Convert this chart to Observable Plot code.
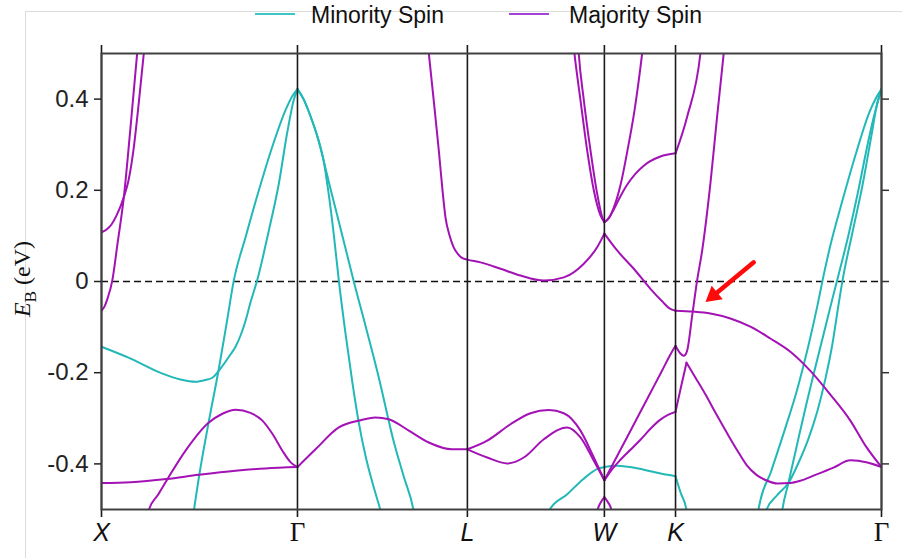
<!DOCTYPE html>
<html><head><meta charset="utf-8">
<script src="https://cdn.jsdelivr.net/npm/d3@7"></script>
<script src="https://cdn.jsdelivr.net/npm/@observablehq/plot@0.6"></script>
<style>
body{margin:0;background:#fff;}
#wrap{position:relative;width:902px;height:558px;overflow:hidden;font-family:"Liberation Sans",Arial,sans-serif;}
#border{position:absolute;left:25px;top:11px;width:900px;height:600px;border-top:1px solid #dcdcdc;border-left:1px solid #dcdcdc;}
#chart{position:absolute;left:0;top:0;}
.leg{position:absolute;top:0.5px;font-size:23px;line-height:28px;color:#111;white-space:nowrap;}
.sw{position:absolute;height:2.5px;width:40px;top:12.5px;}
#ylab{position:absolute;left:25px;top:279px;transform:translate(-50%,-50%) rotate(-90deg);font-family:"Liberation Serif","DejaVu Serif",serif;font-size:24px;white-space:nowrap;color:#111;}
#ylab sub{font-size:0.72em;vertical-align:-0.3em;}
</style></head>
<body>
<div id="wrap">
  <div id="border"></div>
  <div id="chart"></div>
  <div class="sw" style="left:255px;background:#3cc6c6"></div>
  <div class="leg" style="left:311px">Minority Spin</div>
  <div class="sw" style="left:509px;background:#a443d4"></div>
  <div class="leg" style="left:569px">Majority Spin</div>
  <div id="ylab"><i>E</i><sub>B</sub> (eV)</div>
</div>
<script>
// High-symmetry points (k-path distance) and labels
const kPoints = [0, 1.0, 1.867, 2.566, 2.929, 3.980];
const kLabels = ["X", "Γ", "L", "W", "K", "Γ"];
const yTicks = [-0.4, -0.2, 0, 0.2, 0.4];

// Minority spin bands: [k, E (eV)]
const minXG1 = [[0,-0.143],[0.138,-0.167],[0.311,-0.202],[0.403,-0.215],[0.480,-0.220],[0.531,-0.216],[0.566,-0.211],[0.598,-0.196],[0.658,-0.160],[0.684,-0.143],[0.709,-0.119],[0.735,-0.086],[0.760,-0.046],[0.794,0.002],[0.854,0.112],[0.905,0.215],[0.947,0.325],[0.981,0.398],[1.0,0.422]];
const minXG2 = [[0.465,-0.52],[0.471,-0.503],[0.496,-0.432],[0.547,-0.308],[0.598,-0.193],[0.638,-0.093],[0.675,0.002],[0.735,0.097],[0.803,0.200],[0.871,0.295],[0.939,0.376],[0.974,0.407],[1.0,0.422]];
const minGL1 = [[1.0,0.422],[1.031,0.400],[1.066,0.363],[1.107,0.310],[1.133,0.266],[1.158,0.196],[1.184,0.108],[1.211,0.002],[1.245,-0.114],[1.281,-0.224],[1.311,-0.305],[1.347,-0.382],[1.383,-0.442],[1.423,-0.501],[1.435,-0.52]];
const minGL2 = [[1.0,0.422],[1.031,0.400],[1.066,0.363],[1.107,0.310],[1.133,0.266],[1.168,0.204],[1.194,0.160],[1.245,0.073],[1.286,0.002],[1.347,-0.097],[1.413,-0.207],[1.490,-0.349],[1.541,-0.426],[1.592,-0.501],[1.600,-0.52]];
const minLWK = [[2.280,-0.515],[2.286,-0.501],[2.378,-0.466],[2.459,-0.433],[2.531,-0.411],[2.566,-0.407],[2.633,-0.404],[2.714,-0.408],[2.801,-0.416],[2.888,-0.424],[2.929,-0.427]];
const minKG0 = [[2.929,-0.427],[2.954,-0.462],[2.985,-0.501],[2.990,-0.52]];
const minKG1 = [[3.345,-0.52],[3.352,-0.501],[3.418,-0.415],[3.485,-0.327],[3.551,-0.235],[3.607,-0.141],[3.653,-0.053],[3.679,0.002],[3.719,0.079],[3.781,0.178],[3.852,0.284],[3.918,0.371],[3.954,0.404],[3.980,0.422]];
const minKG2 = [[3.468,-0.52],[3.474,-0.501],[3.505,-0.442],[3.551,-0.354],[3.597,-0.268],[3.643,-0.187],[3.689,-0.108],[3.730,-0.037],[3.760,0.013],[3.811,0.101],[3.862,0.200],[3.903,0.288],[3.939,0.358],[3.964,0.398],[3.980,0.422]];
const minKG3 = [[3.385,-0.52],[3.393,-0.501],[3.449,-0.468],[3.505,-0.442],[3.556,-0.398],[3.607,-0.345],[3.653,-0.284],[3.694,-0.213],[3.730,-0.136],[3.760,-0.053],[3.781,0.002],[3.832,0.108],[3.883,0.211],[3.929,0.321],[3.959,0.393],[3.980,0.422]];

// Majority spin bands: [k, E (eV)]
const majXG1 = [[0,-0.064],[0.015,-0.055],[0.031,-0.037],[0.055,0.002],[0.082,0.084],[0.114,0.185],[0.148,0.338],[0.182,0.501],[0.190,0.54]];
const majXG2 = [[0,0.108],[0.026,0.114],[0.051,0.125],[0.077,0.145],[0.114,0.185],[0.138,0.222],[0.163,0.288],[0.189,0.387],[0.216,0.501],[0.225,0.54]];
const majXG3 = [[0,-0.442],[0.148,-0.440],[0.332,-0.433],[0.495,-0.424],[0.684,-0.415],[0.837,-0.410],[1.0,-0.407]];
const majXG4 = [[0.230,-0.53],[0.240,-0.503],[0.291,-0.466],[0.337,-0.433],[0.429,-0.371],[0.546,-0.310],[0.617,-0.290],[0.684,-0.281],[0.760,-0.288],[0.821,-0.305],[0.872,-0.334],[0.923,-0.371],[0.964,-0.396],[1.0,-0.407]];
const majGL = [[1.0,-0.407],[1.092,-0.368],[1.211,-0.320],[1.313,-0.305],[1.398,-0.298],[1.466,-0.302],[1.568,-0.327],[1.670,-0.353],[1.789,-0.368],[1.867,-0.368]];
const majLW0 = [[1.663,0.530],[1.670,0.501],[1.694,0.402],[1.721,0.288],[1.740,0.200],[1.755,0.141],[1.776,0.101],[1.797,0.075],[1.821,0.059],[1.842,0.051],[1.867,0.048],[1.934,0.042],[2.036,0.028],[2.138,0.013],[2.257,0.002],[2.359,0.009],[2.461,0.039],[2.529,0.075],[2.566,0.105]];
const majWK0 = [[2.566,0.105],[2.631,0.068],[2.716,0.028],[2.801,-0.016],[2.862,-0.044],[2.898,-0.059],[2.929,-0.064]];
const majKG0 = [[2.929,-0.064],[3.020,-0.066],[3.107,-0.070],[3.209,-0.081],[3.311,-0.099],[3.413,-0.125],[3.515,-0.154],[3.617,-0.196],[3.719,-0.248],[3.821,-0.305],[3.898,-0.360],[3.980,-0.407]];
const majLW1 = [[1.867,-0.368],[1.968,-0.349],[2.087,-0.313],[2.189,-0.289],[2.282,-0.282],[2.359,-0.289],[2.444,-0.327],[2.512,-0.386],[2.566,-0.436]];
const majLW2 = [[1.867,-0.368],[1.968,-0.386],[2.070,-0.399],[2.155,-0.386],[2.257,-0.346],[2.376,-0.320],[2.444,-0.342],[2.512,-0.393],[2.566,-0.436]];
const majWcapL = [[2.522,-0.52],[2.531,-0.501],[2.548,-0.484],[2.566,-0.473]];
const majWcapR = [[2.566,-0.473],[2.584,-0.484],[2.602,-0.501],[2.610,-0.52]];
const majWL1 = [[2.403,0.541],[2.413,0.501],[2.444,0.398],[2.478,0.288],[2.512,0.200],[2.546,0.145],[2.566,0.130]];
const majWL2 = [[2.429,0.541],[2.435,0.501],[2.461,0.398],[2.495,0.288],[2.529,0.193],[2.555,0.141],[2.566,0.130]];
const majWR1 = [[2.566,0.130],[2.587,0.138],[2.612,0.160],[2.648,0.211],[2.684,0.288],[2.720,0.376],[2.759,0.501],[2.770,0.541]];
const majWK1 = [[2.566,0.130],[2.590,0.140],[2.614,0.158],[2.648,0.187],[2.682,0.212],[2.724,0.236],[2.767,0.254],[2.852,0.274],[2.929,0.281]];
const majKG1 = [[2.929,0.281],[2.988,0.361],[3.056,0.500],[3.066,0.541]];
const majWK2 = [[2.566,-0.436],[2.648,-0.369],[2.724,-0.307],[2.801,-0.244],[2.862,-0.194],[2.903,-0.160],[2.929,-0.141]];
const majKG2 = [[2.929,-0.141],[2.954,-0.158],[2.971,-0.163],[2.988,-0.152],[3.014,-0.075],[3.039,0.002],[3.065,0.068],[3.107,0.215],[3.141,0.361],[3.175,0.501],[3.184,0.541]];
const majWK3 = [[2.566,-0.436],[2.607,-0.411],[2.648,-0.391],[2.699,-0.369],[2.750,-0.347],[2.801,-0.323],[2.852,-0.303],[2.893,-0.292],[2.929,-0.286]];
const majKG3a = [[2.929,-0.286],[2.954,-0.237],[2.985,-0.178]];
const majKG3b = [[2.985,-0.178],[3.031,-0.211],[3.082,-0.248],[3.133,-0.288],[3.194,-0.334],[3.245,-0.371],[3.291,-0.402],[3.342,-0.424],[3.398,-0.437],[3.449,-0.443],[3.515,-0.442],[3.566,-0.437],[3.643,-0.424],[3.735,-0.408],[3.821,-0.392],[3.908,-0.397],[3.980,-0.407]];

// Annotation arrow (tail -> tip) in data units
const arrowTail = [3.328, 0.042];
const arrowTip = [3.082, -0.045];

const minorityBands = [minXG1, minXG2, minGL1, minGL2, minLWK, minKG0, minKG1, minKG2, minKG3];
const majorityBands = [majXG1, majXG2, majXG3, majXG4, majGL, majLW0, majWK0, majKG0, majLW1, majLW2,
  majWcapL, majWcapR, majWL1, majWL2, majWR1, majWK1, majKG1, majWK2, majKG2, majWK3, majKG3a, majKG3b];

const toRows = (bands, spin) => bands.flatMap((b, i) => b.map(([k, e]) => ({k, e, band: spin + i})));
const minRows = toRows(minorityBands, "min");
const majRows = toRows(majorityBands, "maj");

const CYAN = "#22b8b8";
const PURPLE = "#a312b5";

const labelRows = kPoints.map((k, i) => ({k, label: kLabels[i]}));
const fmt = d => d === 0 ? "0" : d.toFixed(1);

// layout
const W = 902, H = 558, ML = 101, MR = 21, MT = 53, MB = 49;
const xDomain = [0, kPoints[kPoints.length - 1]], yDomain = [-0.5, 0.5];

// arrow head orientation from the same scales
const sx = Plot.scale({x: {domain: xDomain, range: [ML, W - MR]}});
const sy = Plot.scale({y: {domain: yDomain, range: [H - MB, MT]}});
const ddx = sx.apply(arrowTip[0]) - sx.apply(arrowTail[0]);
const ddy = sy.apply(arrowTip[1]) - sy.apply(arrowTail[1]);
const len = Math.hypot(ddx, ddy), ux = ddx / len, uy = ddy / len;
const headR = 6.5, headBack = 1.555 * headR;
const headRotate = Math.atan2(ux, -uy) * 180 / Math.PI;

const chart = Plot.plot({
  width: W, height: H,
  marginLeft: ML, marginRight: MR, marginTop: MT, marginBottom: MB,
  x: {domain: xDomain, axis: null},
  y: {domain: yDomain, axis: null},
  style: {fontFamily: "Liberation Sans, Arial, sans-serif", background: "transparent", overflow: "visible"},
  marks: [
    Plot.ruleY([0], {stroke: "#111", strokeWidth: 1.5, strokeDasharray: "7,4"}),
    Plot.line(minRows, {x: "k", y: "e", z: "band", stroke: CYAN, strokeWidth: 2, curve: "monotone-x", clip: true}),
    Plot.line(majRows, {x: "k", y: "e", z: "band", stroke: PURPLE, strokeWidth: 2, curve: "monotone-x", clip: true}),
    Plot.ruleX(kPoints, {stroke: "#1a1a1a", strokeWidth: 1.6, insetTop: -8, insetBottom: -8}),
    Plot.frame({stroke: "#404040", strokeWidth: 2}),
    Plot.axisY(yTicks, {anchor: "left", tickSize: 7, tickPadding: 6, tickFormat: fmt, fontSize: 24, color: "#222", strokeWidth: 1.5, label: null}),
    Plot.axisY(yTicks, {anchor: "right", tickSize: 7, tickFormat: () => "", color: "#333", strokeWidth: 1.5, label: null}),
    Plot.text(labelRows.filter(d => d.label !== "Γ"), {x: "k", text: "label", frameAnchor: "bottom", dy: 31, fontSize: 25, fontStyle: "italic", fill: "#111"}),
    Plot.text(labelRows.filter(d => d.label === "Γ"), {x: "k", text: "label", frameAnchor: "bottom", dy: 31, fontSize: 27, fontFamily: "Liberation Serif, serif", fill: "#111"}),
    Plot.arrow([{t: arrowTail, h: arrowTip}], {x1: d => d.t[0], y1: d => d.t[1], x2: d => d.h[0], y2: d => d.h[1], stroke: "#ff0a0a", strokeWidth: 4.5, headLength: 0, insetEnd: 12}),
    Plot.dot([{h: arrowTip}], {x: d => d.h[0], y: d => d.h[1], symbol: "triangle", r: headR, fill: "#ff0a0a", stroke: "none", rotate: headRotate, dx: -ux * headBack, dy: -uy * headBack})
  ]
});
document.getElementById("chart").appendChild(chart);
</script>
</body></html>
